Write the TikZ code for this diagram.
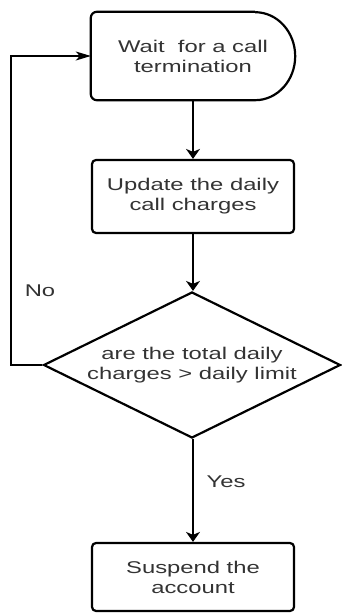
\documentclass[tikz,border=0pt]{standalone}
\usepackage{fontspec}
\newfontfamily\lblfont[FakeStretch=1.4]{Liberation Sans}
\usetikzlibrary{shapes.geometric,arrows.meta,calc}
\definecolor{txtgray}{HTML}{333333}
\tikzset{
  lbl/.style={font=\lblfont\fontsize{17}{20}\selectfont, text=txtgray, align=center, inner sep=0pt},
  procbox/.style={lbl, draw=black, line width=2.2pt, rounded corners=4pt, minimum width=202pt},
  outline/.style={draw=black, line width=2.2pt},
  conn/.style={draw=black, line width=1.3pt},
  vtip/.style={-{Stealth[length=10pt, width=14pt, inset=3pt]}},
  htip/.style={-{Stealth[length=15pt, width=9pt, inset=4pt]}},
}
\begin{document}
\begin{tikzpicture}[x=1pt, y=1pt]
\useasboundingbox (0,0) rectangle (342,614);
% delay shape
\node[lbl, minimum width=204pt, minimum height=88pt] (wait) at (193,558) {Wait\ \ for a call\\termination};
\draw[outline, rounded corners=6pt] ($(wait.north east)+(-40pt,0)$) -- (wait.north west) -- (wait.south west) -- ($(wait.south east)+(-40pt,0)$);
\draw[outline] ($(wait.south east)+(-40pt,0)$) arc[start angle=-90, end angle=90, x radius=40pt, y radius=44pt];
% process boxes
\node[procbox, minimum height=73pt] (upd) at (193,417.5) {Update the daily\\call charges};
\node[lbl, shape=diamond, draw=black, line width=2.2pt, minimum width=297pt, minimum height=146pt, aspect=2.03] (dec) at (192,249) {are the total daily\\charges > daily limit};
\node[procbox, minimum height=68pt] (susp) at (193,37) {Suspend the\\account};
% connectors
\draw[conn, vtip] (wait.south -| upd.north) -- (upd.north);
\draw[conn, vtip] (upd.south) -- (dec.north -| upd.south);
\draw[conn, vtip] (dec.south -| susp.north) -- (susp.north);
\coordinate (loopc) at (11,249);
\draw[conn, htip] (dec.west) -- (loopc) |- (wait.west);
% labels
\node[lbl] (no) at (40,323) {No};
\node[lbl] (yes) at (226,132) {Yes};
\end{tikzpicture}
\end{document}
